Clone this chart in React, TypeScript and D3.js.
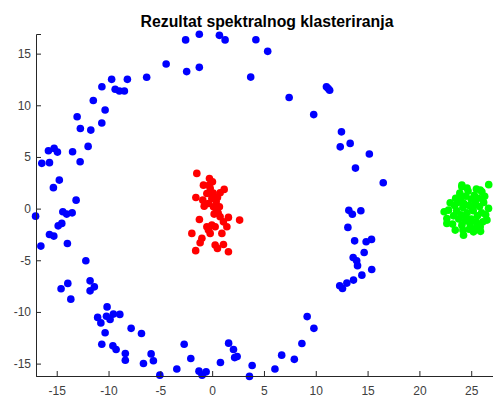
import { useEffect, useRef } from "react";
import * as d3 from "d3";

// blue ring, [x, y]
const blueRing: [number, number][] = [
  [-16.44, 4.38], [-15.7, 4.45], [-15.8, 5.6], [-15.25, 5.83], [-14.93, 5.47],
  [-15.32, 2.03], [-14.75, 2.76], [-13.47, 5.5], [-12.74, 4.53], [-11.97, 6.02],
  [-13.03, 8.89], [-12.72, 7.76], [-11.71, 7.6], [-11.47, 10.47], [-10.64, 11.79],
  [-10.33, 9.54], [-10.65, 8.28], [-9.7, 12.51], [-9.36, 11.55], [-8.95, 11.39],
  [-8.47, 11.39], [-8.18, 12.51], [-6.32, 12.71], [-4.44, 13.99], [-2.56, 16.33],
  [-2.46, 13.26], [-1.24, 16.87], [-1.24, 13.67], [0.7, 16.77], [1.25, 16.33],
  [4.22, 16.34], [5.36, 15.22], [3.72, 12.73], [7.43, 10.76], [11.03, 11.79],
  [11.34, 11.45], [11.2, 11.62], [9.8, 9.1], [12.48, 7.43], [12.36, 5.98],
  [13.32, 6.31], [15.17, 5.28], [13.83, 3.92], [16.51, 2.5], [13.19, -0.17],
  [13.53, -0.55], [14.35, -0.21], [13.1, -1.82], [13.75, -3.12], [14.86, -3.21],
  [15.38, -2.98], [14.67, -4.24], [13.61, -4.74], [13.95, -5.05], [14.03, -5.52],
  [15.4, -5.89], [14.45, -6.44], [13.64, -6.92], [13.0, -7.21], [12.31, -7.47],
  [12.58, -7.73], [9.17, -10.45], [9.82, -11.59], [8.66, -13.05], [7.93, -14.59],
  [6.71, -14.18], [6.06, -15.52], [3.86, -15.18], [3.6, -16.24], [2.17, -14.42],
  [2.41, -14.31], [2.06, -13.63], [1.59, -13.02], [0.8, -14.89], [-0.58, -15.8],
  [-0.97, -16.12], [-1.27, -15.73], [-2.06, -14.5], [-2.7, -13.12], [-3.41, -15.52],
  [-5.05, -16.12], [-5.67, -14.73], [-5.89, -14.06], [-6.63, -14.99], [-6.82, -12.08],
  [-7.82, -11.59], [-8.38, -14.02], [-8.38, -14.67], [-9.27, -13.63], [-9.58, -13.28],
  [-10.65, -13.12], [-10.33, -12.02], [-10.14, -9.51], [-11.05, -10.53], [-10.74, -11.06],
  [-10.2, -10.41], [-9.85, -10.73], [-9.53, -10.21], [-8.91, -10.24], [-12.19, -5.05],
  [-11.78, -6.99], [-11.37, -7.57], [-11.78, -7.96], [-13.93, -7.24], [-14.58, -7.76],
  [-13.64, -8.76], [-13.97, -3.37], [-16.53, -3.63], [-15.7, -2.5], [-15.28, -2.66],
  [-14.51, -1.43], [-14.86, -1.67], [-14.41, -0.31], [-14.04, -0.53], [-13.51, -0.41],
  [-13.13, 0.82], [-17.04, -0.73],
];

// red centre cluster
const redCluster: [number, number][] = [
  [-1.48, 3.41], [-0.26, 2.92], [0.03, 2.59], [-0.84, 2.27], [1.16, 1.86],
  [0.77, 1.53], [-0.19, 1.96], [-0.51, 1.47], [-1.57, 1.08], [-0.9, 0.82],
  [-0.03, 0.99], [0.51, 1.08], [0.39, 0.66], [-0.77, 0.24], [-0.36, 0.5],
  [0.13, 0.17], [0.7, 0.17], [0.45, -0.15], [0.19, -0.53], [0.77, -0.79],
  [1.57, -0.85], [2.65, -1.11], [-1.23, -1.05], [1.09, -1.28], [-0.51, -1.76],
  [-0.03, -1.6], [0.29, -1.76], [1.42, -1.76], [-0.36, -2.08], [-1.96, -2.4],
  [0.94, -2.4], [-0.19, -2.4], [-0.99, -2.88], [-1.16, -3.31], [0.29, -3.53],
  [1.09, -3.48], [0.51, -3.85], [-1.59, -4.07], [1.57, -4.18], [-0.29, 2.27],
  [0.1, 1.5], [0.58, -0.44],
];

// green cluster on the right
const greenCluster: [number, number][] = [
  [22.39, -0.31], [22.65, -0.95], [22.97, 0.56], [24.1, 2.11], [26.03, 1.63],
  [26.69, 2.32], [23.46, -2.08], [24.26, -2.57], [25.22, -2.25], [25.87, -1.76],
  [26.52, -1.11], [26.67, 0.02], [22.81, -0.15], [22.65, -1.43], [24.2, -2.08],
  [25.39, -1.92], [26.13, -1.28], [23.94, 1.31], [24.1, 2.27], [25.87, 1.79],
  [24.0, 0.8], [24.5, 1.2], [25.0, 0.9], [25.4, 0.5], [24.8, 0.3],
  [24.2, 0.1], [23.6, -0.2], [24.0, -0.6], [24.6, -0.4], [25.2, -0.2],
  [25.8, 0.2], [25.6, -0.7], [25.0, -1.0], [24.4, -1.2], [23.8, -1.0],
  [23.4, 0.3], [24.9, -1.5], [25.5, -1.3], [24.1, -1.6], [23.9, 1.5],
  [24.7, 1.7], [25.3, 1.3], [26.2, 0.6], [26.0, -0.4], [23.3, -0.7],
  [24.5, -0.9], [25.1, 0.1], [24.3, 0.5], [23.7, 0.6], [24.8, -2.0],
  [25.7, 1.0], [26.4, -0.6], [25.5, 1.9], [24.6, 2.0], [23.5, 1.0],
  [26.3, 1.2], [23.2, -1.5], [25.9, -2.2],
];

const xTicks = [-15, -10, -5, 0, 5, 10, 15, 20, 25];
const yTicks = [-15, -10, -5, 0, 5, 10, 15];

const title = "Rezultat spektralnog klasteriranja";

export default function App() {
  const ref = useRef<HTMLDivElement>(null);

  useEffect(() => {
    const width = 493;
    const height = 398;
    const left = 36, right = 494, top = 34, bottom = 376;

    const x = d3.scaleLinear().domain([-17, 27.2]).range([left, right]);
    const y = d3.scaleLinear().domain([-16.2, 16.9]).range([bottom, top]);

    const svg = d3.select(ref.current)
      .append("svg")
      .attr("width", width)
      .attr("height", height)
      .style("display", "block")
      .style("font-family", "'Liberation Sans', Arial, sans-serif");

    svg.append("rect").attr("width", width).attr("height", height).attr("fill", "#fff");

    const groups: [[number, number][], string][] = [
      [blueRing, "#0000ff"],
      [redCluster, "#ff0000"],
      [greenCluster, "#00ff00"],
    ];
    groups.forEach(([pts, c]) => {
      svg.append("g")
        .selectAll("circle")
        .data(pts)
        .join("circle")
        .attr("cx", d => x(d[0]))
        .attr("cy", d => y(d[1]))
        .attr("r", 3.8)
        .attr("fill", c);
    });

    // MATLAB style axes, ticks pointing inward
    const xAxis = d3.axisBottom(x).tickValues(xTicks).tickSize(-5).tickPadding(10).tickFormat(d => String(d));
    const yAxis = d3.axisLeft(y).tickValues(yTicks).tickSize(-5).tickPadding(10).tickFormat(d => String(d));

    const gx = svg.append("g").attr("transform", `translate(0,${bottom})`).call(xAxis);
    const gy = svg.append("g").attr("transform", `translate(${left},0)`).call(yAxis);

    [gx, gy].forEach(g => {
      g.select(".domain").attr("stroke", "#262626");
      g.selectAll(".tick line").attr("stroke", "#262626");
      g.selectAll(".tick text")
        .attr("fill", "#404040")
        .attr("font-size", 12)
        .attr("font-family", "'Liberation Sans', Arial, sans-serif");
    });
    gy.selectAll(".tick text").attr("x", -5);

    svg.append("text")
      .attr("x", 267)
      .attr("y", 27)
      .attr("text-anchor", "middle")
      .attr("font-weight", "bold")
      .attr("font-size", 15.8)
      .attr("fill", "#000")
      .text(title);

    return () => {
      d3.select(ref.current).selectAll("*").remove();
    };
  }, []);

  return <div ref={ref} style={{ position: "fixed", left: 0, top: 0 }} />;
}
